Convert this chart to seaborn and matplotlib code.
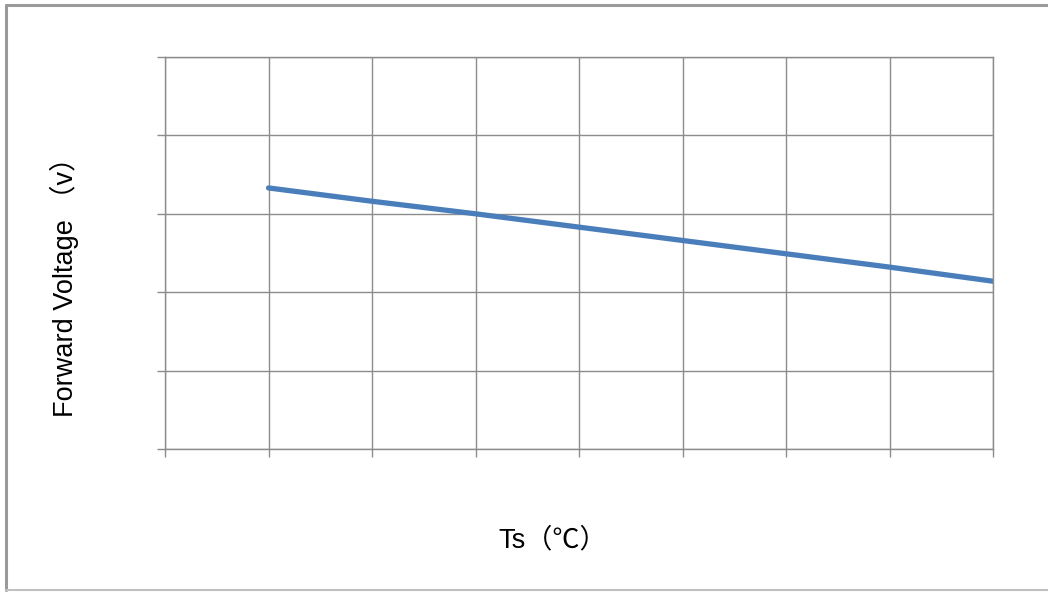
import matplotlib
matplotlib.use("Agg")
import matplotlib.pyplot as plt
import matplotlib.lines as mlines
import seaborn as sns
import pandas as pd
import numpy as np

# data (no tick labels in the original, units assumed)
ts = [-20, 0, 20, 40, 60, 80, 100, 120]
vf = [3.33, 3.16, 3.00, 2.83, 2.66, 2.49, 2.32, 2.14]
x_ticks = [-40, -20, 0, 20, 40, 60, 80, 100, 120]
y_ticks = [0, 1, 2, 3, 4, 5]

df = pd.DataFrame({"Ts": ts, "Vf": vf})

sns.set_style("white")
plt.rcParams['font.family'] = ['Liberation Sans', 'Noto Sans CJK SC', 'DejaVu Sans']

fig = plt.figure(figsize=(10.48, 5.92), dpi=100)
ax = fig.add_axes([165/1048, 1-449/592, (993-165)/1048, (449-57)/592])

grid_c = "#8c8c8c"
sns.lineplot(data=df, x="Ts", y="Vf", ax=ax, color="#4a7ebb", linewidth=3.8,
             solid_capstyle="round")

ax.set_xlim(x_ticks[0], x_ticks[-1])
ax.set_ylim(y_ticks[0], y_ticks[-1])
ax.set_xticks(x_ticks)
ax.set_yticks(y_ticks)
ax.set_xticklabels([])
ax.set_yticklabels([])
ax.grid(True, color=grid_c, linewidth=1.0)
ax.set_axisbelow(True)
for s in ax.spines.values():
    s.set_visible(True)
    s.set_color(grid_c)
    s.set_linewidth(1.0)
ax.tick_params(axis="both", length=5.8, width=1.0, color=grid_c, direction="out",
               bottom=True, left=True)
ax.set_xlabel(None)
ax.set_ylabel(None)

fig.text(553/1048, 1-540/592, "Ts（℃）", fontsize=19.5, ha="center", va="center",
         color="black")
fig.text(64/1048, 1-280/592, "Forward Voltage （v）", fontsize=19.5, rotation=90,
         ha="center", va="center", color="black")

# outer frame (left, top, bottom)
frame_c = "#9a9a9a"
fig.add_artist(mlines.Line2D([5.5/1048, 5.5/1048], [1-5/592, 1-590/592],
                             transform=fig.transFigure, color=frame_c, linewidth=2.2))
fig.add_artist(mlines.Line2D([5.5/1048, 1.0], [1-5/592, 1-5/592],
                             transform=fig.transFigure, color=frame_c, linewidth=2.2))
fig.add_artist(mlines.Line2D([5.5/1048, 1.0], [1-590/592, 1-590/592],
                             transform=fig.transFigure, color="#c0c0c0", linewidth=1.5))

fig.savefig("out.png", dpi=100)
